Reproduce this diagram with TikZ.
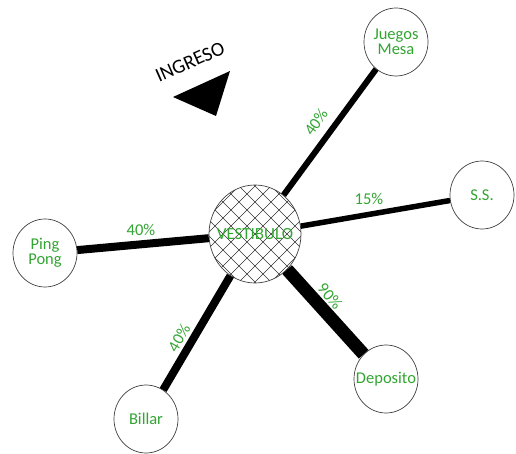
\documentclass[tikz,border=0pt]{standalone}
\usepackage{fontspec}
\setmainfont{Carlito}
\usetikzlibrary{shapes.geometric}
\definecolor{lbl}{RGB}{50,165,50}
\begin{document}
\begin{tikzpicture}[x=1pt,y=-1pt,
  room/.style={draw=black!75, line width=0.7pt, ellipse, minimum width=64, minimum height=68, inner sep=0pt, fill=white, text=lbl, font=\fontsize{16.5}{17}\selectfont, align=center},
  hub/.style={draw=black!75, line width=0.7pt, ellipse, minimum width=92, minimum height=98, inner sep=0pt, text=lbl, font=\fontsize{17}{18}\selectfont},
  link/.style={line cap=butt, draw=black},
  pct/.style={text=lbl, font=\fontsize{16.5}{17}\selectfont, inner sep=0pt}]
\useasboundingbox (0,0) rectangle (516,454);
% hatching of the hub
\begin{scope}
  \clip (255,234) ellipse [x radius=46, y radius=49];
  \foreach \k in {-8,...,8}{
    \draw[line width=0.4pt, black!80] (\k*16+135,114) -- ++(240,240);
    \draw[line width=0.4pt, black!80] (\k*16+375,114) -- ++(-240,240);
  }
\end{scope}
\node[hub] (vest) at (255,234) {\makebox[0pt]{VESTIBULO}};
\node[room] (juegos) at (396,42) {Juegos\\[-2pt]Mesa};
\node[room] (ss) at (482,195) {S.S.};
\node[room] (ping) at (45,253) {Ping\\[-2pt]Pong};
\node[room] (dep) at (386,379) {\makebox[0pt]{Deposito}};
\node[room] (billar) at (146,419) {Billar};
% connectors
\draw[link, line width=6pt] (vest) -- (juegos);
\draw[link, line width=5.5pt] (vest) -- (ss);
\draw[link, line width=8pt] (vest) -- (ping);
\draw[link, line width=13pt] (vest) -- (dep);
\draw[link, line width=8pt] (vest) -- (billar);
% labels
\node[pct, rotate=55] (p1) at (316,122) {40\%};
\node[pct] (p2) at (369,199) {15\%};
\node[pct] (p3) at (141,230) {40\%};
\node[pct, rotate=-50] (p4) at (330,296) {90\%};
\node[pct, rotate=60] (p5) at (179,338) {40\%};
% entrance
\node[rotate=24, font=\fontsize{20}{22}\selectfont, inner sep=0pt] (ing) at (190,62) {INGRESO};
\fill (173,97) -- (230,71) -- (216,116) -- cycle;
\end{tikzpicture}
\end{document}
